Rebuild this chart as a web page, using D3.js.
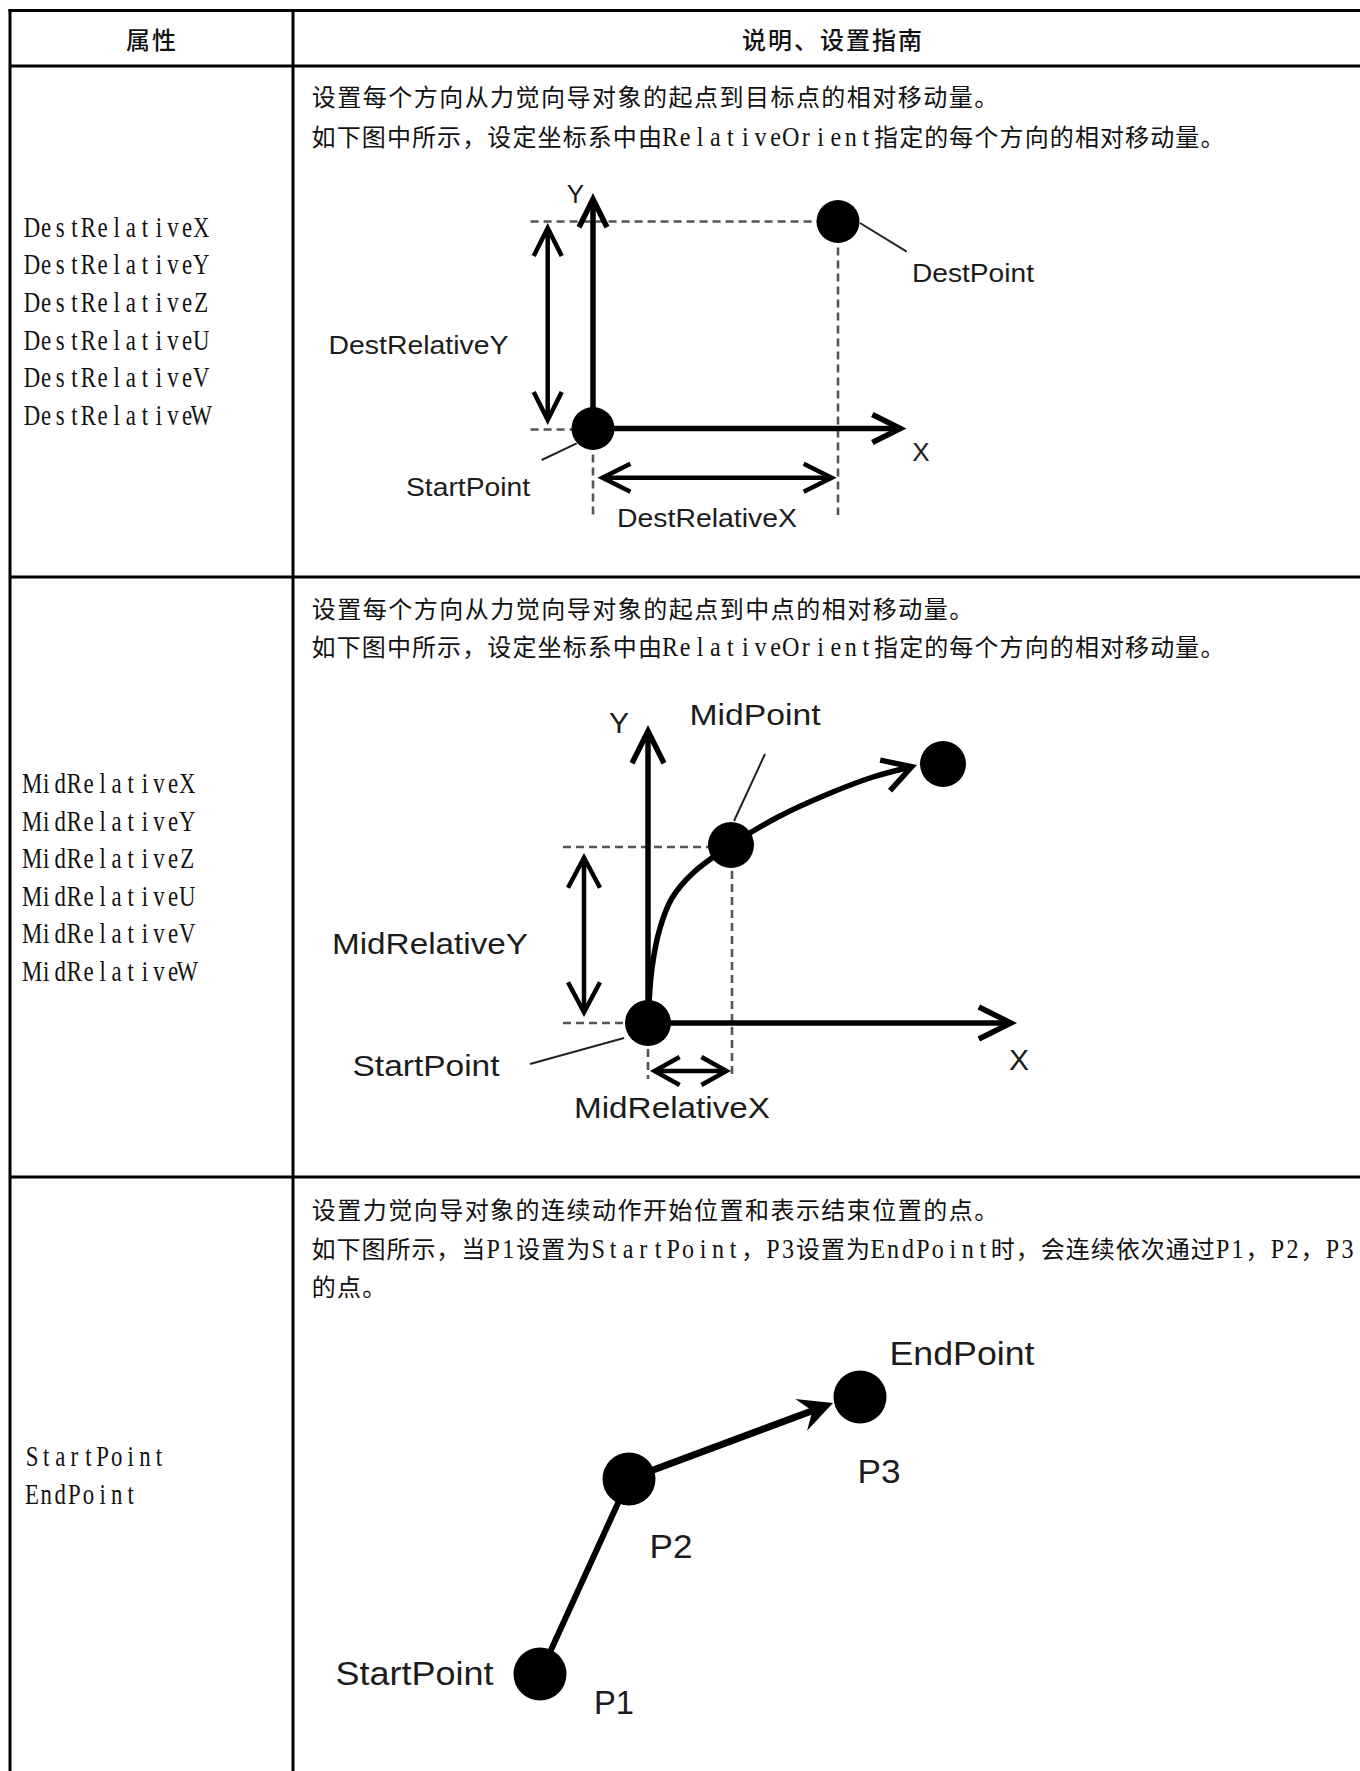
<!DOCTYPE html>
<html><head><meta charset="utf-8">
<script src="https://cdn.jsdelivr.net/npm/d3@7"></script>
<style>html,body{margin:0;padding:0;background:#fff;} svg{display:block;}</style>
</head><body>
<script>
// ---------------- DATA ----------------
const headers = ["属性", "说明、设置指南"];
const propNames = [
  ["DestRelativeX","DestRelativeY","DestRelativeZ","DestRelativeU","DestRelativeV","DestRelativeW"],
  ["MidRelativeX","MidRelativeY","MidRelativeZ","MidRelativeU","MidRelativeV","MidRelativeW"],
  ["StartPoint","EndPoint"]
];
const descLines = [
  ["设置每个方向从力觉向导对象的起点到目标点的相对移动量。",
   "如下图中所示，设定坐标系中由RelativeOrient指定的每个方向的相对移动量。"],
  ["设置每个方向从力觉向导对象的起点到中点的相对移动量。",
   "如下图中所示，设定坐标系中由RelativeOrient指定的每个方向的相对移动量。"],
  ["设置力觉向导对象的连续动作开始位置和表示结束位置的点。",
   "如下图所示，当P1设置为StartPoint，P3设置为EndPoint时，会连续依次通过P1，P2，P3",
   "的点。"]
];
// Diagram 1 geometry (diagram units, origin = StartPoint, y up)
const d1Nodes = [[0,0],[245,207]];
const d1Axes = [[[0,0],[0,235.5]], [[0,0],[313.5,0]]];
const d1Dims = [[[-45.3,3.5],[-45.3,205.5]], [[4.4,-49.2],[243.7,-49.2]]];
const d1Guides = [[[-62.4,207],[245,207]], [[-62.4,-1],[0,-1]], [[245,207],[245,-86.5]], [[0,0],[0,-86.5]]];
const d1Leaders = [[[267,205.5],[313.7,176.8]], [[-16.3,-14.8],[-51.3,-31.5]]];
const d1Labels = [["Y",-17.5,235],["X",328,-23.5],["DestPoint",380,156],["DestRelativeY",-174.5,84],["StartPoint",-125,-58],["DestRelativeX",114,-89.5]];
// Diagram 2 geometry
const d2Nodes = [[0,0],[83,178],[295,259]];
const d2Axes = [[[0,0],[0,298]], [[0,0],[369,0]]];
const d2Curve = [[0,0],[4,55],[12,95],[24,125],[45,150],[83,178],[130,206],[180,229],[225,246],[269,258]];
const d2Dims = [[[-64,6],[-64,170]], [[2,-48],[83,-48]]];
const d2Guides = [[[-85,176],[84,176]], [[-85,0],[0,0]], [[84,178],[84,-56]], [[0,0],[0,-56]]];
const d2Leaders = [[[117,269],[86,202]], [[-118,-41],[-24,-15]]];
const d2Labels = [["Y",-29,301],["X",371,-36],["MidPoint",107,309],["MidRelativeY",-218,80],["StartPoint",-222,-42],["MidRelativeX",24,-84]];
// Diagram 3 geometry
const d3Nodes = [[0,0],[89,195],[320,277]];
const d3Path = [[0,0],[89,195],[293,271]];
const d3Labels = [["EndPoint",422,321],["P3",339,203],["P2",131,128],["P1",74,-28],["StartPoint",-125.4,1]];

// ---------------- LAYOUT / STYLE ----------------
const W = 1360, H = 1771;
const grid = {left:10, top:10.5, headerBottom:66, rowBottoms:[577,1177], divider:293};
const propLayout = [{y0:227.5, dy:37.7},{y0:784, dy:37.5},{y0:1457, dy:38}];
const descLayout = [{ys:[97,137], ws:[688,914]}, {ys:[609,647], ws:[663,914]}, {ys:[1210,1249,1287], ws:[688,1044,76]}];
const labelW = {
  d1:{"Y":null,"X":null,"DestPoint":122,"DestRelativeY":180,"StartPoint":124,"DestRelativeX":180},
  d2:{"Y":null,"X":null,"MidPoint":131,"MidRelativeY":196,"StartPoint":147,"MidRelativeX":196},
  d3:{"EndPoint":145,"P3":43,"P2":43,"P1":40,"StartPoint":158}
};
const SERIF = "'Liberation Serif', 'DejaVu Serif', serif";
const CJK = "'Noto Sans CJK SC', sans-serif";

const svg = d3.select("body").append("svg").attr("width",W).attr("height",H);

// ---------------- TABLE ----------------
const gl = svg.append("g").attr("stroke","#000").attr("stroke-width",3);
gl.append("line").attr("x1",grid.left-1.5).attr("x2",W+5).attr("y1",grid.top).attr("y2",grid.top);
gl.append("line").attr("x1",grid.left).attr("x2",grid.left).attr("y1",grid.top-1.5).attr("y2",H+5);
gl.append("line").attr("x1",grid.divider).attr("x2",grid.divider).attr("y1",grid.top).attr("y2",H+5);
[grid.headerBottom, ...grid.rowBottoms].forEach(yv =>
  gl.append("line").attr("x1",grid.left).attr("x2",W+5).attr("y1",yv).attr("y2",yv));

const headerX = [151, 832];
headers.forEach((h,i) => svg.append("text").attr("x",headerX[i]+1).attr("y",40+8.8)
  .attr("text-anchor","middle").attr("font-family",CJK)
  .attr("font-size",24).attr("font-weight",500).attr("letter-spacing",2).attr("fill","#111").text(h));

// monospaced serif ASCII run (compressed glyphs on a fixed grid)
function asciiRun(x0, baseline, str, adv, fs, sx) {
  const chars = Array.from(str);
  svg.append("text")
    .attr("transform", `translate(${x0},${baseline}) scale(${sx},1)`)
    .attr("x", chars.map((c,i) => ((i+0.5)*adv/sx).toFixed(2)).join(" "))
    .attr("y", 0).attr("text-anchor","middle")
    .attr("font-family", SERIF).attr("font-size", fs).attr("fill","#111")
    .text(str);
}
function cjkRun(x0, baseline, str, adv) {
  const chars = Array.from(str);
  svg.append("text")
    .attr("x", chars.map((c,i) => (x0 + (i+0.5)*adv).toFixed(2)).join(" "))
    .attr("y", baseline).attr("text-anchor","middle")
    .attr("font-family", CJK).attr("font-size", 24).attr("fill","#111")
    .text(str);
}

// property names
propNames.forEach((names,r) => names.forEach((n,i) =>
  asciiRun(25, propLayout[r].y0 + i*propLayout[r].dy + 9, n, 14.1, 28.5, 0.8)));

// description lines
function richLine(x0, baseline, str, width) {
  const runs = str.match(/[\x00-\x7F]+|[^\x00-\x7F]+/g);
  const isA = r => /^[\x00-\x7F]/.test(r);
  const units = runs.map(r => isA(r) ? r.length*0.6 : r.length);
  const k = width / d3.sum(units);
  let cx = x0;
  runs.forEach((r,i) => {
    const w = units[i]*k;
    if (isA(r)) asciiRun(cx, baseline - 0.5, r, 0.6*k, 28, 0.86);
    else cjkRun(cx, baseline, r, k);
    cx += w;
  });
}
descLines.forEach((lines,r) => lines.forEach((s,i) =>
  richLine(311, descLayout[r].ys[i] + 9, s, descLayout[r].ws[i])));

// ---------------- DIAGRAM HELPERS ----------------
function makeScales(ox, oy) {
  const x = d3.scaleLinear().domain([0,100]).range([ox, ox+100]);
  const y = d3.scaleLinear().domain([0,100]).range([oy, oy-100]);
  return p => [x(p[0]), y(p[1])];
}
function chevron(g, tip, from, len, half, w) {
  const dx = tip[0]-from[0], dy = tip[1]-from[1], L = Math.hypot(dx,dy);
  const ux = dx/L, uy = dy/L, nx = -uy, ny = ux;
  const th = Math.atan2(half, len);
  const off = (w/2)/Math.sin(th);
  const tx = tip[0]-ux*off, ty = tip[1]-uy*off;
  const bx = tx-ux*len, by = ty-uy*len;
  g.append("path").attr("d", d3.line()([[bx+nx*half, by+ny*half],[tx,ty],[bx-nx*half, by-ny*half]]))
    .attr("fill","none").attr("stroke","#000").attr("stroke-width",w)
    .attr("stroke-linejoin","miter").attr("stroke-miterlimit",20);
  return [tx, ty];
}
function arrowLine(g, a, b, len, half, w, both) {
  const tb = chevron(g, b, a, len, half, w);
  let ta = a;
  if (both) ta = chevron(g, a, b, len, half, w);
  g.append("line").attr("x1",ta[0]).attr("y1",ta[1]).attr("x2",tb[0]).attr("y2",tb[1])
    .attr("stroke","#000").attr("stroke-width",w);
}
function label(g, cx, cy, t, fs, w) {
  const el = g.append("text").attr("y", cy + 0.358*fs)
    .attr("font-family","'Liberation Sans', Arial, sans-serif").attr("font-size",fs)
    .attr("fill","#1c1c1c").text(t);
  if (w) el.attr("x", cx - w/2).attr("textLength", w).attr("lengthAdjust","spacingAndGlyphs");
  else el.attr("x", cx).attr("text-anchor","middle");
}
function guides(g, P, list, w) {
  list.forEach(s => g.append("line")
    .attr("x1",P(s[0])[0]).attr("y1",P(s[0])[1]).attr("x2",P(s[1])[0]).attr("y2",P(s[1])[1])
    .attr("stroke","#555").attr("stroke-width",w).attr("stroke-dasharray","8,5"));
}
function leaders(g, P, list) {
  list.forEach(s => g.append("line")
    .attr("x1",P(s[0])[0]).attr("y1",P(s[0])[1]).attr("x2",P(s[1])[0]).attr("y2",P(s[1])[1])
    .attr("stroke","#222").attr("stroke-width",2));
}

// ---------------- DIAGRAM 1 ----------------
{
  const P = makeScales(593, 428.5);
  const g = svg.append("g");
  guides(g, P, d1Guides, 2.6);
  leaders(g, P, d1Leaders);
  d1Axes.forEach(a => arrowLine(g, P(a[0]), P(a[1]), 28, 14, 5.5, false));
  d1Dims.forEach(a => arrowLine(g, P(a[0]), P(a[1]), 28, 14, 4.5, true));
  d1Nodes.forEach(n => g.append("circle").attr("cx",P(n)[0]).attr("cy",P(n)[1]).attr("r",21.5).attr("fill","#000"));
  d1Labels.forEach(l => { const p = P([l[1],l[2]]); label(g, p[0], p[1], l[0], 26, labelW.d1[l[0]]); });
}

// ---------------- DIAGRAM 2 ----------------
{
  const P = makeScales(648, 1023);
  const g = svg.append("g");
  guides(g, P, d2Guides, 2.6);
  leaders(g, P, d2Leaders);
  d2Axes.forEach(a => arrowLine(g, P(a[0]), P(a[1]), 32, 16, 5.5, false));
  d2Dims.forEach((a,i) => arrowLine(g, P(a[0]), P(a[1]), i===0 ? 30 : 25, i===0 ? 16 : 14, 4.5, true));
  const pts = d2Curve.map(P);
  const n = pts.length;
  const tip = chevron(g, pts[n-1], pts[n-3], 28, 16, 5.5);
  const cpts = pts.slice(0, n-1).concat([tip]);
  g.append("path").attr("d", d3.line().curve(d3.curveCatmullRom.alpha(0.5))(cpts))
    .attr("fill","none").attr("stroke","#000").attr("stroke-width",5.5);
  d2Nodes.forEach(nd => g.append("circle").attr("cx",P(nd)[0]).attr("cy",P(nd)[1]).attr("r",23).attr("fill","#000"));
  d2Labels.forEach(l => { const p = P([l[1],l[2]]); label(g, p[0], p[1], l[0], 30, labelW.d2[l[0]]); });
}

// ---------------- DIAGRAM 3 ----------------
{
  const P = makeScales(540, 1674);
  const g = svg.append("g");
  const p0 = P(d3Path[0]), p1 = P(d3Path[1]), p2 = P(d3Path[2]);
  g.append("line").attr("x1",p0[0]).attr("y1",p0[1]).attr("x2",p1[0]).attr("y2",p1[1])
    .attr("stroke","#000").attr("stroke-width",6);
  const dx = p2[0]-p1[0], dy = p2[1]-p1[1], L = Math.hypot(dx,dy);
  const ux = dx/L, uy = dy/L, nx = -uy, ny = ux;
  const len = 34, half = 17, notch = 22;
  const bx = p2[0]-ux*len, by = p2[1]-uy*len;
  const nxp = p2[0]-ux*notch, nyp = p2[1]-uy*notch;
  g.append("line").attr("x1",p1[0]).attr("y1",p1[1]).attr("x2",nxp).attr("y2",nyp)
    .attr("stroke","#000").attr("stroke-width",7);
  g.append("path").attr("d", d3.line()([p2, [bx+nx*half, by+ny*half], [nxp,nyp], [bx-nx*half, by-ny*half]]) + "Z")
    .attr("fill","#000");
  d3Nodes.forEach(nd => g.append("circle").attr("cx",P(nd)[0]).attr("cy",P(nd)[1]).attr("r",26.5).attr("fill","#000"));
  d3Labels.forEach(l => { const p = P([l[1],l[2]]); label(g, p[0], p[1], l[0], 33, labelW.d3[l[0]]); });
}
</script>
</body></html>
